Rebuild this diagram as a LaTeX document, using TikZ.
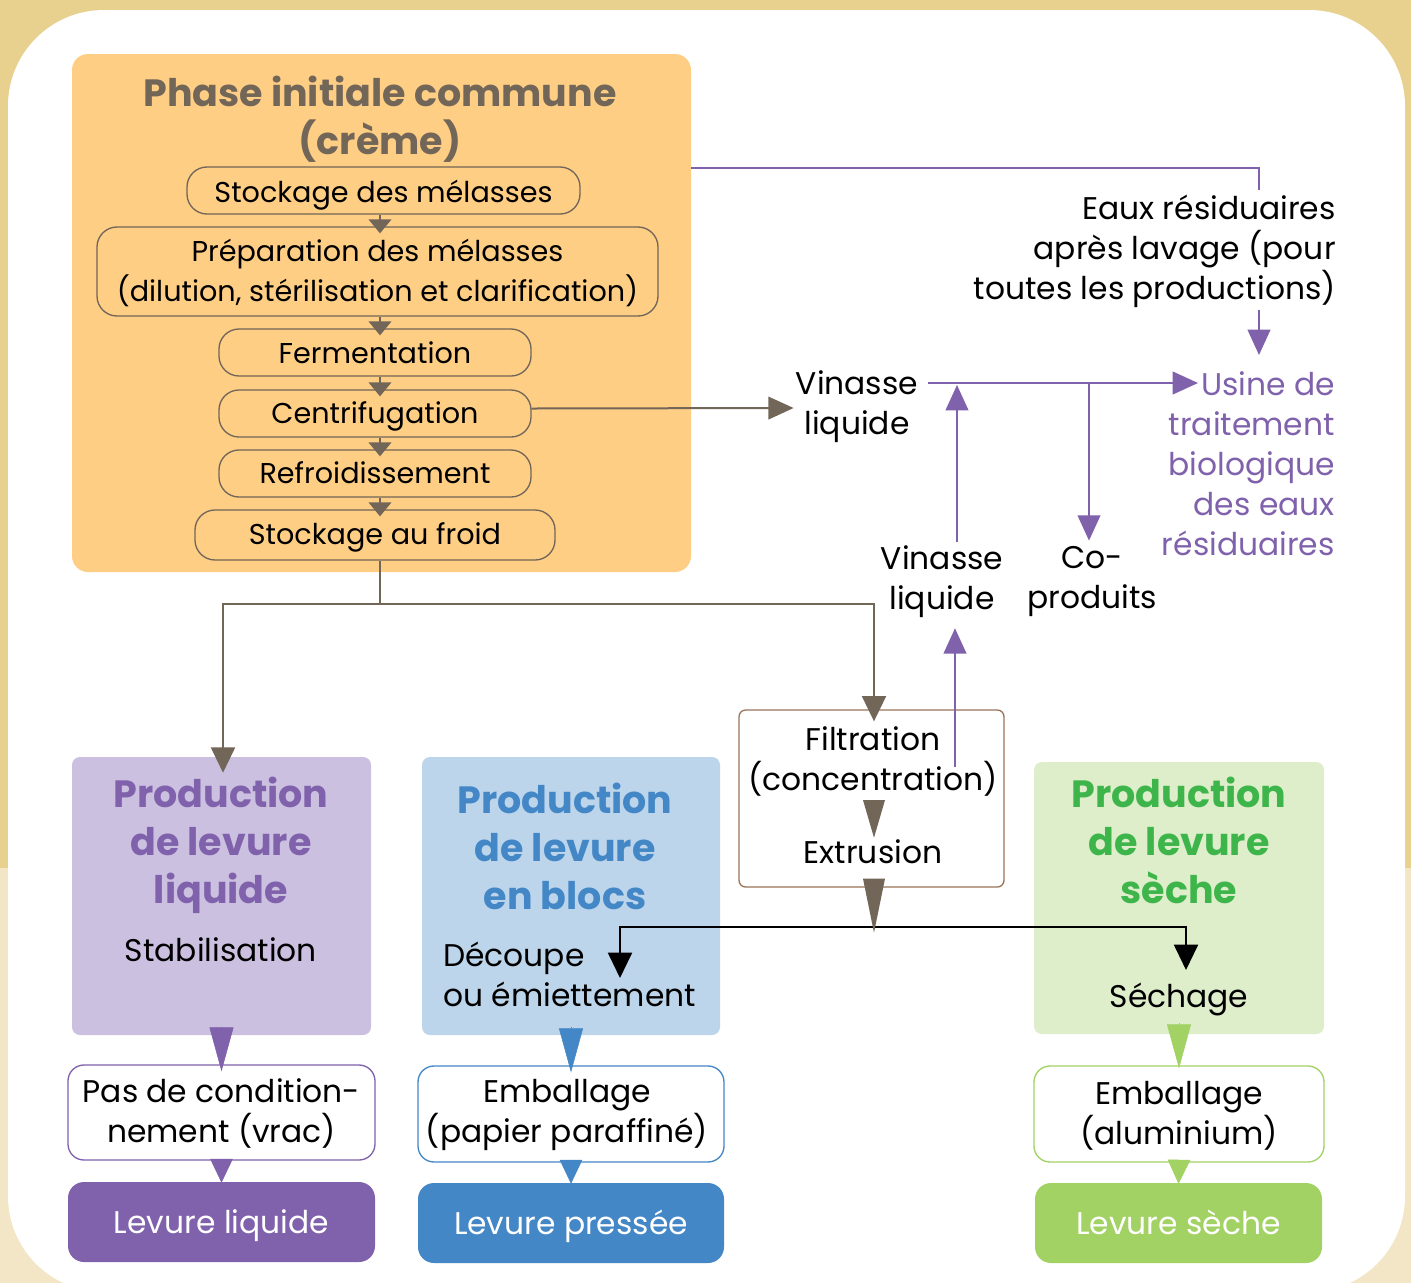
\documentclass[tikz,border=0pt]{standalone}
\usepackage{fontspec}
\setmainfont{Poppins}
\usetikzlibrary{arrows.meta,calc,fit}
\definecolor{bgtop}{HTML}{E8D08F}
\definecolor{bgbot}{HTML}{F3E6C7}
\definecolor{orfill}{HTML}{FFCE85}
\definecolor{brn}{HTML}{726658}
\definecolor{filtb}{HTML}{9A7358}
\definecolor{purp}{HTML}{8062AC}
\definecolor{purpl}{HTML}{CBC0E0}
\definecolor{blu}{HTML}{4387C6}
\definecolor{blul}{HTML}{BDD5EB}
\definecolor{grn}{HTML}{3DB54A}
\definecolor{grnl}{HTML}{DEEDCA}
\definecolor{grnm}{HTML}{A2D264}
\tikzset{
  txt/.style={font=\fontsize{23.5}{30}\selectfont, align=center, inner sep=0pt},
  stxt/.style={font=\fontsize{21.5}{30}\selectfont, align=center, inner sep=0pt},
  ttl/.style={font=\bfseries\fontsize{28.5}{36}\selectfont, align=center, inner sep=0pt},
  stepbox/.style={draw=brn, line width=1pt, fill=orfill, rounded corners=15pt, inner sep=0pt},
  prodbox/.style={rounded corners=6pt, inner sep=0pt},
  packbox/.style={fill=white, line width=1pt, rounded corners=12pt, inner sep=0pt},
  endbox/.style={rounded corners=12pt, inner sep=0pt},
  brnline/.style={draw=brn, line width=1.5pt},
  prpline/.style={draw=purp, line width=1.5pt},
  blkline/.style={draw=black, line width=1.5pt},
  smallhead/.style={-{Triangle[width=17pt,length=10.5pt]}},
  midhead/.style={-{Triangle[width=17pt,length=19pt]}},
  bighead/.style={-{Triangle[width=18pt,length=19pt]}},
  longhead/.style={line width=0.4pt, -{Triangle[width=18pt,length=33pt]}},
  shorthead/.style={line width=0.4pt, -{Triangle[width=17pt,length=18pt]}},
}
\begin{document}
\begin{tikzpicture}[x=0.75pt,y=-0.75pt]
\useasboundingbox (0,0) rectangle (1411,1283);
\clip (0,0) rectangle (1411,1283);
% background
\fill[bgtop] (0,0) rectangle (1411,868);
\fill[bgbot] (0,868) rectangle (1411,1283);
\fill[white, rounded corners=72pt] (8,10) rectangle (1405,1292);

% common phase
\node[fit={(72,54) (691,572)}, fill=orfill, rounded corners=12pt, inner sep=0pt] (phase) {};
\node[ttl, text=brn] (phasettl) at (380,119) {Phase initiale commune\\(crème)};
\node[stepbox, fit={(187,167) (580,214)}] (stock) {};
\node[stepbox, fit={(97,227) (658,316)}] (prep) {};
\node[stepbox, fit={(219,329) (531,376)}] (ferm) {};
\node[stepbox, fit={(219,390) (531,437)}] (centri) {};
\node[stepbox, fit={(219,450) (531,497)}] (refr) {};
\node[stepbox, fit={(195,510) (555,560)}] (froid) {};
\node[stxt] (stocktxt) at ($(stock.center)+(0,5)$) {Stockage des mélasses};
\node[stxt] (preptxt) at ($(prep.center)+(0,1)$) {Préparation des mélasses\\(dilution, stérilisation et clarification)};
\node[stxt] (fermtxt) at ($(ferm.center)+(0,0)$) {Fermentation};
\node[stxt] (centritxt) at ($(centri.center)+(0,3)$) {Centrifugation};
\node[stxt] (refrtxt) at ($(refr.center)+(0,-1)$) {Refroidissement};
\node[stxt] (froidtxt) at ($(froid.center)+(0,2)$) {Stockage au froid};
\coordinate (ax) at (380,0);
\draw[brnline, smallhead] (stock.south -| ax) -- ($(prep.north -| ax)+(0,7)$);
\draw[brnline, smallhead] (prep.south -| ax) -- ($(ferm.north -| ax)+(0,7)$);
\draw[brnline, smallhead] (ferm.south -| ax) -- ($(centri.north -| ax)+(0,7)$);
\draw[brnline, smallhead] (centri.south -| ax) -- ($(refr.north -| ax)+(0,7)$);
\draw[brnline, smallhead] (refr.south -| ax) -- ($(froid.north -| ax)+(0,7)$);

% right side texts
\node[txt, align=right, anchor=east] (eaux) at (1336,251) {Eaux résiduaires\\après lavage (pour\\toutes les productions)};
\node[txt, align=right, anchor=east, text=purp] (usine) at (1335,464) {Usine de\\traitement\\biologique\\des eaux\\résiduaires};
\node[txt] (vin1) at (857,407) {Vinasse\\liquide};
\node[txt] (vin2) at (942,582) {Vinasse\\liquide};
\node[txt] (copro) at (1092,581) {Co-\\produits};

\coordinate (wc) at (1259,168);
\coordinate (vj) at (928,383);
\draw[prpline] (phase.east |- wc) -- (wc) -- ($(eaux.north -| wc)+(0,-4)$);
\draw[prpline, midhead] ($(eaux.south -| wc)+(0,2)$) -- (1259,355);
\draw[prpline, midhead] (vj) -- (1198,383);
\draw[prpline, midhead] (1089,383) -- ($(copro.north -| 1089,0)+(0,-5)$);
\draw[prpline, midhead] ($(vin2.north -| 957,0)+(0,-4)$) -- (957,385);
\draw[brnline, midhead] ($(centri.east)+(0,-5)$) -- ($(vin1.west)+(-2,1)$);

% split
\node[fit={(739,710) (1004,887)}, draw=filtb, line width=1pt, rounded corners=5pt, inner sep=0pt] (filt) {};
\node[txt] (filtxt) at (873,761) {Filtration\\(concentration)};
\node[txt] (extr) at (873,852) {Extrusion};
\draw[prpline, midhead] (955,767) -- ($(vin2.south -| 955,0)+(0,10)$);

\node[fit={(72,757) (371,1035)}, prodbox, fill=purpl] (pliq) {};
\node[fit={(422,757) (720,1035)}, prodbox, fill=blul] (pblo) {};
\node[fit={(1034,762) (1324,1034)}, prodbox, fill=grnl] (psec) {};
\node[ttl, text=purp] (tliq) at (221,845) {Production\\de levure\\liquide};
\node[ttl, text=blu] (tblo) at (565,846) {Production\\de levure\\en blocs};
\node[ttl, text=grn] (tsec) at (1179,840) {Production\\de levure\\sèche};
\node[txt] (stab) at (221,950) {Stabilisation};
\node[txt, align=left, anchor=west] (dec) at (443,974) {Découpe\\ou émiettement};
\node[txt] (sech) at (1179,999) {Séchage};

\draw[brnline] (froid.south -| ax) -- (380,604) coordinate (split);
\draw[brnline, bighead] (split) -| ($(pliq.north -| 223,0)+(0,16)$);
\draw[brnline, bighead] (split) -| ($(filt.north -| 874,0)+(0,12)$);

\fill[brn] ($(filtxt.south -| 874,0)+(-11,4)$) -- ++(22,0) -- ($(extr.north -| 874,0)+(0,-2)$) -- cycle;
\coordinate (bj) at (874,927);
\draw[blkline, bighead] (bj) -| (620,978);
\draw[blkline, bighead] (bj) -| (1186,970);
\fill[brn] ($(filt.south -| 874,0)+(-11,-9)$) -- ++(22,0) -- ($(filt.south -| 874,0)+(0,45)$) -- cycle;

% packaging
\node[packbox, draw=purp, fit={(68,1065) (375,1160)}] (pas) {};
\node[packbox, draw=blu, fit={(418,1066) (724,1162)}] (emb1) {};
\node[packbox, draw=grnm, fit={(1034,1066) (1324,1162)}] (emb2) {};
\node[endbox, fill=purp, fit={(68,1182) (375,1262)}] (lliq) {};
\node[endbox, fill=blu, fit={(418,1183) (724,1263)}] (lpre) {};
\node[endbox, fill=grnm, fit={(1035,1183) (1322,1263)}] (lsec) {};
\node[txt] (pastxt) at ($(pas.center)+(0,1)$) {Pas de condition-\\nement (vrac)};
\node[txt] (emb1txt) at ($(emb1.center)+(-4,1)$) {Emballage\\(papier paraffiné)};
\node[txt] (emb2txt) at ($(emb2.center)+(0,2)$) {Emballage\\(aluminium)};
\node[txt, text=white] (lliqtxt) at ($(lliq.center)+(0,4)$) {Levure liquide};
\node[txt, text=white] (lpretxt) at ($(lpre.center)+(0,3)$) {Levure pressée};
\node[txt, text=white] (lsectxt) at ($(lsec.center)+(0,-1)$) {Levure sèche};

\draw[draw=purp, fill=purp, longhead] ($(pliq.south)+(0,-8)$) -- ($(pas.north)+(0,7)$);
\draw[draw=blu, fill=blu, longhead] ($(pblo.south -| 571,0)+(0,-8)$) -- ($(emb1.north -| 571,0)+(0,7)$);
\draw[draw=grnm, fill=grnm, longhead] ($(psec.south)+(0,-11)$) -- ($(emb2.north)+(0,3)$);
\draw[draw=purp, fill=purp, shorthead] ($(pas.south)+(0,-2)$) -- ($(lliq.north)+(0,1)$);
\draw[draw=blu, fill=blu, shorthead] ($(emb1.south -| 571,0)+(0,-2)$) -- ($(lpre.north -| 571,0)+(0,1)$);
\draw[draw=grnm, fill=grnm, shorthead] ($(emb2.south)+(0,-2)$) -- ($(lsec.north)+(0,1)$);
\end{tikzpicture}
\end{document}
